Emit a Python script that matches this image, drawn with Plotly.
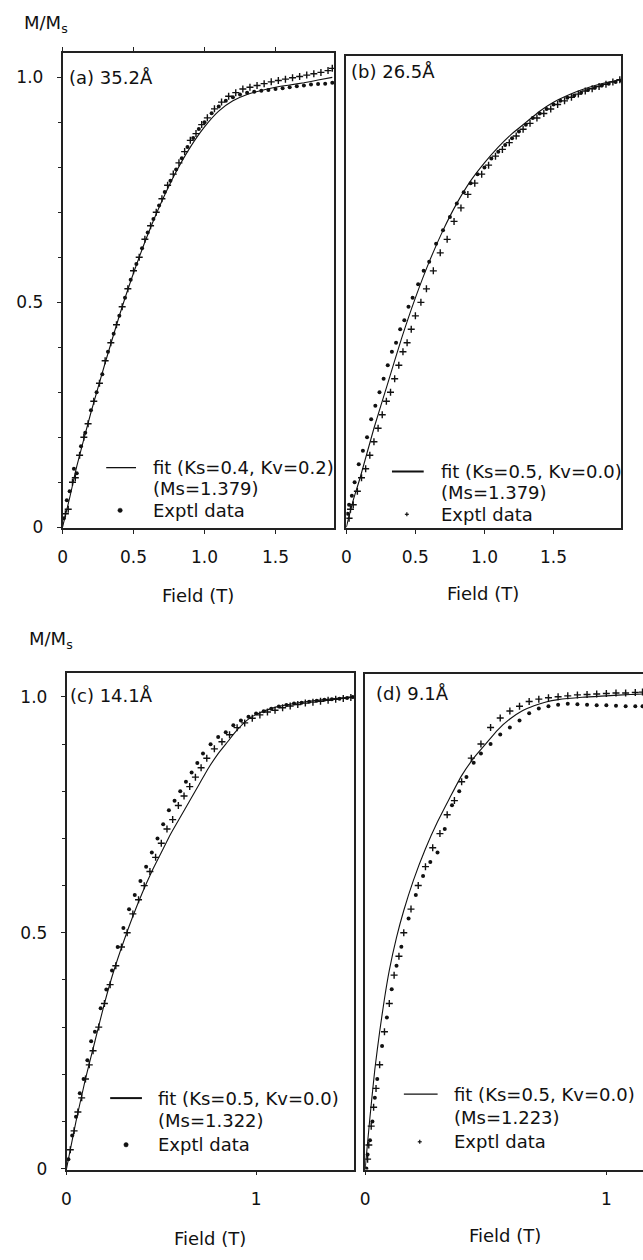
import plotly.graph_objects as go

# ---------------- data ----------------
# Panel (a) 35.2 Å
a_fit_x = [0, 0.05, 0.1, 0.2, 0.3, 0.4, 0.5, 0.6, 0.7, 0.8, 0.9, 1.0, 1.1, 1.2, 1.3, 1.4, 1.5, 1.6, 1.7, 1.8, 1.9]
a_fit_y = [0, 0.065, 0.135, 0.255, 0.365, 0.47, 0.565, 0.65, 0.725, 0.79, 0.845, 0.89, 0.925, 0.948, 0.962, 0.971, 0.978, 0.983, 0.988, 0.994, 1.0]
a_dot_x = [0.01, 0.03, 0.05, 0.08, 0.10, 0.13, 0.16, 0.20, 0.24, 0.28, 0.32, 0.36, 0.40, 0.44, 0.48, 0.52, 0.56, 0.60, 0.64, 0.68, 0.72, 0.76, 0.80, 0.84, 0.88, 0.92, 0.96, 1.00, 1.05, 1.10, 1.15, 1.20, 1.25, 1.30, 1.35, 1.40, 1.45, 1.50, 1.55, 1.60, 1.65, 1.70, 1.75, 1.80, 1.85, 1.90]
a_dot_y = [0.02, 0.06, 0.08, 0.13, 0.12, 0.18, 0.21, 0.26, 0.30, 0.34, 0.39, 0.43, 0.47, 0.51, 0.55, 0.585, 0.62, 0.655, 0.685, 0.715, 0.745, 0.77, 0.795, 0.82, 0.845, 0.865, 0.885, 0.90, 0.92, 0.935, 0.948, 0.956, 0.962, 0.966, 0.968, 0.97, 0.972, 0.974, 0.976, 0.978, 0.98, 0.982, 0.984, 0.985, 0.986, 0.988]
a_crs_x = [0.02, 0.04, 0.07, 0.09, 0.12, 0.15, 0.18, 0.22, 0.26, 0.30, 0.34, 0.38, 0.42, 0.46, 0.50, 0.54, 0.58, 0.62, 0.66, 0.70, 0.74, 0.78, 0.82, 0.86, 0.90, 0.94, 0.98, 1.02, 1.07, 1.12, 1.17, 1.22, 1.27, 1.32, 1.37, 1.42, 1.47, 1.52, 1.57, 1.62, 1.67, 1.72, 1.77, 1.82, 1.87, 1.90]
a_crs_y = [0.03, 0.04, 0.10, 0.11, 0.16, 0.20, 0.23, 0.28, 0.32, 0.37, 0.41, 0.45, 0.49, 0.53, 0.57, 0.60, 0.64, 0.67, 0.70, 0.73, 0.76, 0.785, 0.81, 0.835, 0.86, 0.875, 0.895, 0.91, 0.93, 0.945, 0.958, 0.966, 0.974, 0.978, 0.982, 0.986, 0.99, 0.993, 0.996, 0.999, 1.002, 1.005, 1.008, 1.011, 1.015, 1.02]

# Panel (b) 26.5 Å
b_fit_x = [0, 0.05, 0.1, 0.2, 0.3, 0.4, 0.5, 0.6, 0.7, 0.8, 0.9, 1.0, 1.1, 1.2, 1.3, 1.4, 1.5, 1.6, 1.7, 1.8, 1.9, 1.99]
b_fit_y = [0, 0.06, 0.11, 0.22, 0.32, 0.42, 0.51, 0.59, 0.66, 0.72, 0.77, 0.81, 0.845, 0.875, 0.90, 0.925, 0.945, 0.96, 0.972, 0.982, 0.99, 0.995]
b_dot_x = [0.01, 0.02, 0.04, 0.06, 0.09, 0.12, 0.15, 0.18, 0.21, 0.24, 0.27, 0.30, 0.33, 0.36, 0.39, 0.42, 0.45, 0.48, 0.52, 0.56, 0.60, 0.65, 0.70, 0.75, 0.80, 0.85, 0.90, 0.95, 1.00, 1.05, 1.10, 1.15, 1.20, 1.25, 1.30, 1.35, 1.40, 1.45, 1.50, 1.55, 1.60, 1.65, 1.70, 1.75, 1.80, 1.85, 1.90, 1.95, 1.99]
b_dot_y = [0.03, 0.05, 0.07, 0.10, 0.14, 0.17, 0.20, 0.24, 0.27, 0.30, 0.33, 0.36, 0.39, 0.41, 0.44, 0.46, 0.49, 0.51, 0.54, 0.57, 0.59, 0.63, 0.66, 0.69, 0.72, 0.745, 0.765, 0.785, 0.80, 0.82, 0.835, 0.85, 0.865, 0.88, 0.895, 0.91, 0.92, 0.93, 0.94, 0.948, 0.955, 0.96, 0.966, 0.972, 0.977, 0.982, 0.986, 0.99, 0.993]
b_crs_x = [0.02, 0.03, 0.05, 0.08, 0.11, 0.14, 0.17, 0.20, 0.23, 0.26, 0.29, 0.32, 0.35, 0.38, 0.41, 0.44, 0.47, 0.50, 0.54, 0.58, 0.63, 0.68, 0.73, 0.78, 0.83, 0.88, 0.93, 0.98, 1.03, 1.08, 1.13, 1.18, 1.23, 1.28, 1.33, 1.38, 1.43, 1.48, 1.53, 1.58, 1.63, 1.68, 1.73, 1.78, 1.83, 1.88, 1.93, 1.98]
b_crs_y = [0.02, 0.04, 0.05, 0.08, 0.11, 0.13, 0.16, 0.19, 0.22, 0.25, 0.28, 0.30, 0.33, 0.36, 0.39, 0.41, 0.44, 0.47, 0.50, 0.53, 0.57, 0.61, 0.64, 0.68, 0.71, 0.74, 0.765, 0.785, 0.805, 0.825, 0.84, 0.855, 0.87, 0.885, 0.898, 0.91, 0.92, 0.93, 0.94, 0.948, 0.956, 0.963, 0.97, 0.975, 0.98, 0.985, 0.99, 0.995]

# Panel (c) 14.1 Å
c_fit_x = [0, 0.02, 0.05, 0.1, 0.15, 0.2, 0.25, 0.3, 0.35, 0.4, 0.45, 0.5, 0.55, 0.6, 0.65, 0.7, 0.75, 0.8, 0.85, 0.9, 0.95, 1.0, 1.1, 1.2, 1.3, 1.4, 1.5]
c_fit_y = [0, 0.04, 0.10, 0.19, 0.27, 0.35, 0.42, 0.48, 0.535, 0.585, 0.63, 0.67, 0.71, 0.745, 0.78, 0.815, 0.85, 0.88, 0.905, 0.93, 0.95, 0.963, 0.978, 0.986, 0.992, 0.996, 1.0]
c_dot_x = [0.01, 0.03, 0.05, 0.07, 0.09, 0.11, 0.13, 0.15, 0.18, 0.21, 0.24, 0.27, 0.30, 0.33, 0.36, 0.39, 0.42, 0.45, 0.48, 0.51, 0.54, 0.57, 0.60, 0.63, 0.66, 0.69, 0.72, 0.76, 0.80, 0.84, 0.88, 0.92, 0.96, 1.00, 1.04, 1.08, 1.12, 1.16, 1.20, 1.24, 1.28, 1.32, 1.36, 1.40, 1.44, 1.48, 1.51]
c_dot_y = [0.02, 0.07, 0.11, 0.16, 0.19, 0.23, 0.27, 0.29, 0.34, 0.38, 0.42, 0.47, 0.51, 0.55, 0.58, 0.61, 0.64, 0.67, 0.70, 0.73, 0.76, 0.78, 0.80, 0.82, 0.84, 0.86, 0.88, 0.90, 0.915, 0.925, 0.94, 0.95, 0.958, 0.965, 0.97, 0.975, 0.98, 0.983, 0.986, 0.988, 0.99, 0.992, 0.994, 0.995, 0.996, 0.998, 1.0]
c_crs_x = [0.02, 0.04, 0.06, 0.08, 0.10, 0.12, 0.14, 0.17, 0.20, 0.23, 0.26, 0.29, 0.32, 0.35, 0.38, 0.41, 0.44, 0.47, 0.50, 0.53, 0.56, 0.59, 0.62, 0.65, 0.68, 0.71, 0.74, 0.78, 0.82, 0.86, 0.90, 0.94, 0.98, 1.02, 1.06, 1.10, 1.14, 1.18, 1.22, 1.26, 1.30, 1.34, 1.38, 1.42, 1.46, 1.50]
c_crs_y = [0.04, 0.08, 0.12, 0.15, 0.19, 0.22, 0.25, 0.30, 0.35, 0.39, 0.43, 0.47, 0.50, 0.54, 0.57, 0.60, 0.63, 0.66, 0.69, 0.72, 0.74, 0.77, 0.79, 0.81, 0.83, 0.85, 0.87, 0.89, 0.905, 0.92, 0.935, 0.945, 0.955, 0.962, 0.968, 0.972, 0.977, 0.981, 0.984, 0.987, 0.989, 0.991, 0.993, 0.995, 0.997, 0.999]

# Panel (d) 9.1 Å
d_fit_x = [0, 0.02, 0.04, 0.06, 0.08, 0.1, 0.13, 0.16, 0.2, 0.25, 0.3, 0.35, 0.4, 0.45, 0.5, 0.55, 0.6, 0.65, 0.7, 0.75, 0.8, 0.9, 1.0, 1.1, 1.15]
d_fit_y = [0, 0.11, 0.21, 0.29, 0.36, 0.42, 0.49, 0.547, 0.611, 0.678, 0.735, 0.785, 0.833, 0.87, 0.9, 0.93, 0.953, 0.97, 0.981, 0.989, 0.994, 0.999, 1.002, 1.005, 1.006]
d_dot_x = [0.005, 0.01, 0.02, 0.03, 0.04, 0.05, 0.07, 0.09, 0.11, 0.13, 0.15, 0.18, 0.21, 0.24, 0.27, 0.30, 0.33, 0.36, 0.39, 0.42, 0.45, 0.48, 0.52, 0.56, 0.60, 0.64, 0.68, 0.72, 0.76, 0.80, 0.84, 0.88, 0.92, 0.96, 1.00, 1.04, 1.08, 1.12, 1.15]
d_dot_y = [0.0, 0.03, 0.06, 0.10, 0.15, 0.19, 0.26, 0.32, 0.38, 0.43, 0.47, 0.53, 0.58, 0.62, 0.65, 0.67, 0.72, 0.77, 0.80, 0.83, 0.86, 0.88, 0.90, 0.92, 0.935, 0.95, 0.965, 0.975, 0.98, 0.983, 0.985, 0.984, 0.983, 0.982, 0.982, 0.981, 0.98, 0.98, 0.98]
d_crs_x = [0.01, 0.015, 0.025, 0.035, 0.045, 0.06, 0.08, 0.10, 0.12, 0.14, 0.16, 0.19, 0.22, 0.25, 0.28, 0.31, 0.34, 0.37, 0.40, 0.44, 0.48, 0.52, 0.56, 0.60, 0.64, 0.68, 0.72, 0.76, 0.80, 0.84, 0.88, 0.92, 0.96, 1.00, 1.04, 1.08, 1.12, 1.15]
d_crs_y = [0.02, 0.05, 0.09, 0.13, 0.17, 0.22, 0.29, 0.35, 0.41, 0.45, 0.50, 0.55, 0.60, 0.64, 0.68, 0.71, 0.75, 0.78, 0.82, 0.87, 0.90, 0.935, 0.955, 0.97, 0.98, 0.99, 0.995, 0.998, 1.0, 1.002, 1.004, 1.005, 1.006, 1.007, 1.008, 1.008, 1.009, 1.01]

panel_titles = ["(a) 35.2Å", "(b) 26.5Å", "(c) 14.1Å", "(d) 9.1Å"]
fit_labels = ["fit (Ks=0.4, Kv=0.2)", "fit (Ks=0.5, Kv=0.0)", "fit (Ks=0.5, Kv=0.0)", "fit (Ks=0.5, Kv=0.0)"]
ms_labels = ["(Ms=1.379)", "(Ms=1.379)", "(Ms=1.322)", "(Ms=1.223)"]
data_label = "Exptl data"
x_label = "Field (T)"
y_label = "M/M<sub>s</sub>"

# ---------------- layout helpers ----------------
W, H = 643, 1260
FONT = "DejaVu Sans"
INK = "#111111"


def px(x):
    return x / W


def py(y):
    return 1 - y / H


fig = go.Figure()

panels = [
    (a_fit_x, a_fit_y, a_dot_x, a_dot_y, a_crs_x, a_crs_y),
    (b_fit_x, b_fit_y, b_dot_x, b_dot_y, b_crs_x, b_crs_y),
    (c_fit_x, c_fit_y, c_dot_x, c_dot_y, c_crs_x, c_crs_y),
    (d_fit_x, d_fit_y, d_dot_x, d_dot_y, d_crs_x, d_crs_y),
]
for i, (fx, fy, dx, dy, cx, cy) in enumerate(panels):
    xa = "x" if i == 0 else f"x{i+1}"
    ya = "y" if i == 0 else f"y{i+1}"
    fig.add_trace(go.Scatter(x=fx, y=fy, mode="lines", line=dict(color=INK, width=1.1, shape="spline", smoothing=0.6),
                             xaxis=xa, yaxis=ya, showlegend=False, hoverinfo="skip"))
    fig.add_trace(go.Scatter(x=dx, y=dy, mode="markers",
                             marker=dict(symbol="circle", size=4, color=INK),
                             xaxis=xa, yaxis=ya, showlegend=False))
    fig.add_trace(go.Scatter(x=cx, y=cy, mode="markers",
                             marker=dict(symbol="cross-thin", size=5, color=INK,
                                         line=dict(color=INK, width=1.4)),
                             xaxis=xa, yaxis=ya, showlegend=False))

tickfont = dict(family=FONT, size=17, color=INK)
axis_common = dict(showgrid=False, zeroline=False, showline=True, linecolor="#222222",
                   linewidth=1.5, tickfont=tickfont, ticklen=4, tickwidth=1.2,
                   tickcolor="#222222", fixedrange=True)

# pixel boxes: (left, right, top, bottom)
boxes = [(58, 332, 53, 532), (344, 621, 56, 532), (62, 352, 678, 1178), (363, 643, 679, 1178)]
xranges = [[0, 1.915], [0, 1.99], [0, 1.518], [0, 1.152]]
yranges = [[-0.0022, 1.055], [-0.0022, 1.0486], [-0.0021, 1.0505], [-0.0021, 1.048]]
xtickvals = [[0, 0.5, 1.0, 1.5], [0, 0.5, 1.0, 1.5], [0, 1], [0, 1]]
xticktext = [["0", "0.5", "1.0", "1.5"], ["0", "0.5", "1.0", "1.5"], ["0", "1"], ["0", "1"]]

for i in range(4):
    l, r, t, b = boxes[i]
    xkey = "xaxis" if i == 0 else f"xaxis{i+1}"
    ykey = "yaxis" if i == 0 else f"yaxis{i+1}"
    yanchor_name = "y" if i == 0 else f"y{i+1}"
    xanchor_name = "x" if i == 0 else f"x{i+1}"
    xa = dict(axis_common, domain=[px(l), px(r)], range=xranges[i], anchor=yanchor_name,
              tickmode="array", tickvals=xtickvals[i], ticktext=xticktext[i], ticks="outside",
              ticklabelstandoff=9, mirror="ticks" if i == 0 else True)
    ya = dict(axis_common, domain=[py(b), py(t)], range=yranges[i], anchor=xanchor_name,
              mirror=(i != 3))
    if i in (0, 2):
        ya.update(tickmode="array", tickvals=[0, 0.5, 1.0], ticktext=["0", "0.5", "1.0"],
                  ticks="outside", ticklabelstandoff=10,
                  minor=dict(tickmode="linear", tick0=0, dtick=0.1, ticks="outside",
                             ticklen=3, tickwidth=1, tickcolor="#222222"))
    else:
        ya.update(showticklabels=False, ticks="")
    if i == 3:
        ya.update(zeroline=True, zerolinecolor=INK, zerolinewidth=3.5)
    fig.update_layout(**{xkey: xa, ykey: ya})

annotations = []
shapes = []


def text(x, y, s, size=18, xanchor="left"):
    annotations.append(dict(x=px(x), y=py(y), xref="paper", yref="paper", text=s,
                            showarrow=False, xanchor=xanchor, yanchor="middle",
                            font=dict(family=FONT, size=size, color=INK)))


# panel titles
title_pos = [(62, 78), (347, 72), (63, 700), (372, 698)]
for (x, y), s in zip(title_pos, panel_titles):
    text(x, y, s)

# axis labels
for (x, y) in [(195, 600), (482, 598), (207, 1247), (504, 1244)]:
    text(x, y, x_label, xanchor="center")
text(17, 24, y_label)
text(22, 645, y_label)

# legends: (line x0, line x1, text x, marker x, row ys, line width, marker kind)
legends = [
    (102, 132, 147, 116, (471, 492, 514), 1.3, "dot"),
    (390, 422, 437, 405, (475, 496, 518), 2.0, "cross"),
    (106, 138, 152, 122, (1106, 1129, 1153), 2.0, "dot"),
    (402, 436, 451, 418, (1102, 1126, 1150), 1.3, "cross"),
]
for i, (x0, x1, tx, mx, rows, lw, kind) in enumerate(legends):
    r1, r2, r3 = rows
    shapes.append(dict(type="line", xref="paper", yref="paper", x0=px(x0), x1=px(x1),
                       y0=py(r1), y1=py(r1), line=dict(color=INK, width=lw)))
    text(tx, r1, fit_labels[i])
    text(tx, r2, ms_labels[i])
    text(tx, r3, data_label)
    if kind == "dot":
        shapes.append(dict(type="circle", xref="paper", yref="paper",
                           x0=px(mx - 2.2), x1=px(mx + 2.2), y0=py(r3 + 2.2), y1=py(r3 - 2.2),
                           fillcolor=INK, line=dict(color=INK, width=0.5)))
    else:
        shapes.append(dict(type="line", xref="paper", yref="paper", x0=px(mx - 2), x1=px(mx + 2),
                           y0=py(r3), y1=py(r3), line=dict(color=INK, width=1.2)))
        shapes.append(dict(type="line", xref="paper", yref="paper", x0=px(mx), x1=px(mx),
                           y0=py(r3 - 2), y1=py(r3 + 2), line=dict(color=INK, width=1.2)))

fig.update_layout(width=W, height=H, margin=dict(l=0, r=0, t=0, b=0),
                  paper_bgcolor="white", plot_bgcolor="white", showlegend=False,
                  annotations=annotations, shapes=shapes,
                  font=dict(family=FONT, color=INK))

fig.write_html("out.html")
